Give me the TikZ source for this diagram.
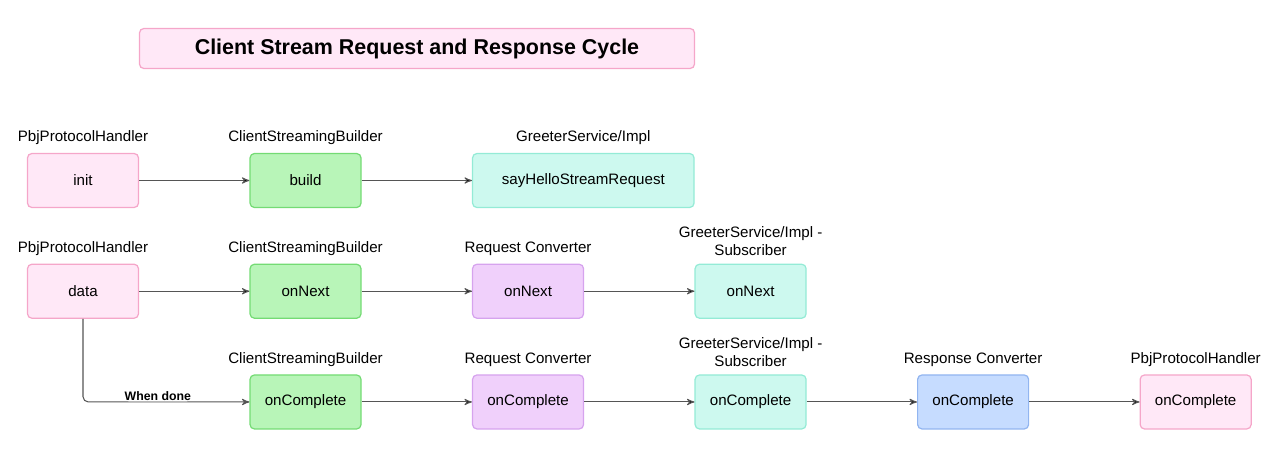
\documentclass[tikz,border=0pt]{standalone}
\usepackage{fontspec}
\setmainfont{Liberation Sans}
\usetikzlibrary{arrows,positioning}

\definecolor{pinkfill}{HTML}{FFE8F7}
\definecolor{pinkline}{HTML}{F5A6C9}
\definecolor{greenfill}{HTML}{B8F5B8}
\definecolor{greenline}{HTML}{74DB74}
\definecolor{cyanfill}{HTML}{CDF9EF}
\definecolor{cyanline}{HTML}{94EBD6}
\definecolor{purplefill}{HTML}{F0D0FB}
\definecolor{purpleline}{HTML}{D6A3EE}
\definecolor{bluefill}{HTML}{C6DCFF}
\definecolor{blueline}{HTML}{92B5F0}
\definecolor{arrowgray}{HTML}{555555}

\begin{document}
\begin{tikzpicture}[->,>=stealth',auto,node distance=1.11cm and 2.206cm,
  box/.style={rectangle,rounded corners=2.5pt,draw,line width=0.7pt,minimum width=2.22cm,
    minimum height=1.08cm,font=\fontsize{8.6pt}{10pt}\selectfont},
  handler/.style={box,fill=pinkfill,draw=pinkline},
  builder/.style={box,fill=greenfill,draw=greenline},
  service/.style={box,fill=cyanfill,draw=cyanline},
  reqconv/.style={box,fill=purplefill,draw=purpleline},
  resconv/.style={box,fill=bluefill,draw=blueline},
  every label/.style={font=\fontsize{8.6pt}{10pt}\selectfont,align=center},
  label distance=1pt]

 \useasboundingbox (0,0) rectangle (25.6,-9.18);

 \node[handler,minimum width=11.1cm,minimum height=0.8cm,font=\fontsize{12.2pt}{14pt}\selectfont\bfseries]
   (title) at (8.34,-0.97) {Client Stream Request and Response Cycle};

 \node[handler] (init) at (1.66,-3.61) [label=above:PbjProtocolHandler] {init};
 \node[builder] (build) [right=of init,label=above:ClientStreamingBuilder] {build};
 \node[service,minimum width=4.43cm] (hello) [right=of build,label=above:GreeterService/Impl] {sayHelloStreamRequest};

 \node[handler] (data) [below=of init,label=above:PbjProtocolHandler] {data};
 \node[builder] (next1) [right=of data,label=above:ClientStreamingBuilder] {onNext};
 \node[reqconv] (next2) [right=of next1,label=above:Request Converter] {onNext};
 \node[service] (next3) [right=of next2,label=above:{GreeterService/Impl -\\Subscriber}] {onNext};

 \node[builder] (done1) [below=of next1,label=above:ClientStreamingBuilder] {onComplete};
 \node[reqconv] (done2) [right=of done1,label=above:Request Converter] {onComplete};
 \node[service] (done3) [right=of done2,label=above:{GreeterService/Impl -\\Subscriber}] {onComplete};
 \node[resconv] (done4) [right=of done3,label=above:Response Converter] {onComplete};
 \node[handler] (done5) [right=of done4,label=above:PbjProtocolHandler] {onComplete};

 \path[draw=arrowgray,line width=0.6pt]
    (init)	edge (build)
    (build)	edge (hello)
    (data)	edge (next1)
    (next1)	edge (next2)
    (next2)	edge (next3)
    (done1)	edge (done2)
    (done2)	edge (done3)
    (done3)	edge (done4)
    (done4)	edge (done5);

 \draw[draw=arrowgray,line width=0.6pt,rounded corners=3pt] (data.south) |- (done1.west)
    node[pos=0.725,fill=white,inner sep=0.5pt,text=black,font=\fontsize{7pt}{8pt}\selectfont\bfseries] {When done};

\end{tikzpicture}
\end{document}
